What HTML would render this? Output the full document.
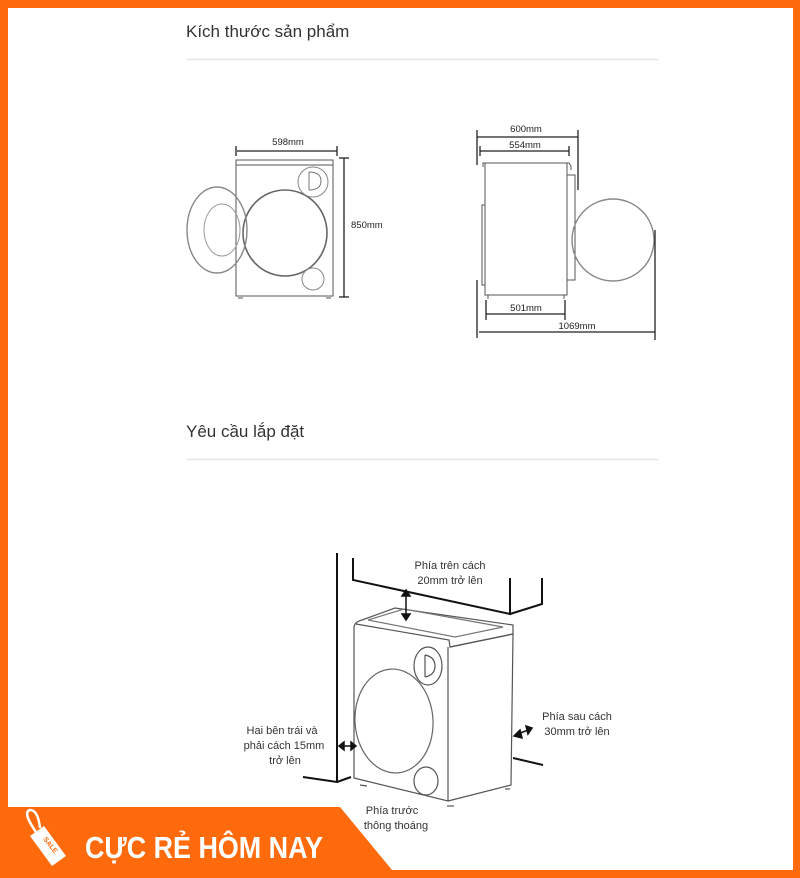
<!DOCTYPE html>
<html><head><meta charset="utf-8"><style>
html,body{margin:0;padding:0;background:#fff}
svg{display:block}
text{font-family:"Liberation Sans",sans-serif}
</style></head><body>
<svg width="800" height="878" viewBox="0 0 800 878" xmlns="http://www.w3.org/2000/svg">
<rect x="0" y="0" width="800" height="878" fill="#ff6a0c"/>
<rect x="8" y="8" width="785" height="862" fill="#fff"/>

<text x="186" y="37" font-size="17" fill="#333">Kích thước sản phẩm</text>
<line x1="187" y1="59.5" x2="658" y2="59.5" stroke="#e4e4e4" stroke-width="1.5"/>
<text x="186" y="437" font-size="17" fill="#333">Yêu cầu lắp đặt</text>
<line x1="187" y1="459.5" x2="658" y2="459.5" stroke="#e4e4e4" stroke-width="1.5"/>

<g fill="none" stroke="#555" stroke-width="1">
<rect x="236" y="160" width="97" height="136"/>
<line x1="236" y1="165" x2="333" y2="165"/>
<ellipse cx="285" cy="233" rx="42" ry="43" stroke-width="1.6" stroke="#666"/>
<ellipse cx="217" cy="230" rx="30" ry="43" stroke-width="1.4" stroke="#888"/>
<ellipse cx="222" cy="230" rx="18" ry="26" stroke="#999"/>
<circle cx="313" cy="182" r="15" stroke="#888"/>
<path d="M309 172 v18 M309 172 q12 0 12 9 q0 9 -12 9" stroke="#777"/>
<circle cx="313" cy="279" r="11" stroke="#888"/>
<line x1="238" y1="298" x2="243" y2="298"/><line x1="326" y1="298" x2="331" y2="298"/>
</g>
<g stroke="#222" stroke-width="1.3" fill="#222">
<line x1="237" y1="151" x2="337" y2="151"/>
<line x1="236" y1="146" x2="236" y2="156"/><line x1="337" y1="146" x2="337" y2="156"/>
<line x1="344" y1="158" x2="344" y2="297"/>
<line x1="339" y1="158" x2="349" y2="158"/><line x1="339" y1="297" x2="349" y2="297"/>
</g>
<text x="288" y="145" font-size="9.5" text-anchor="middle" fill="#222">598mm</text>
<text x="351" y="228" font-size="9.5" fill="#222">850mm</text>

<g fill="none" stroke="#555" stroke-width="1">
<rect x="485" y="163" width="82" height="132"/>
<path d="M483 167 v-4 h86 l2 3 v4"/>
<path d="M485 205 h-3 v80 h3"/>
<path d="M567 175 h8 v105 h-8"/>
<circle cx="613" cy="240" r="41" stroke="#888" stroke-width="1.4"/>
<line x1="488" y1="295" x2="488" y2="299"/><line x1="564" y1="295" x2="564" y2="299"/>
</g>
<g stroke="#222" stroke-width="1.3">
<line x1="477" y1="130" x2="477" y2="165"/><line x1="578" y1="130" x2="578" y2="190"/>
<line x1="477" y1="137" x2="578" y2="137"/>
<line x1="480" y1="151" x2="569" y2="151"/><line x1="569" y1="146" x2="569" y2="156"/><line x1="480" y1="146" x2="480" y2="156"/>
<line x1="486" y1="314" x2="565" y2="314"/><line x1="486" y1="300" x2="486" y2="320"/><line x1="565" y1="300" x2="565" y2="320"/>
<line x1="477" y1="280" x2="477" y2="338"/><line x1="655" y1="230" x2="655" y2="340"/>
<line x1="479" y1="332" x2="655" y2="332"/>
</g>
<text x="526" y="132" font-size="9.5" text-anchor="middle" fill="#222">600mm</text>
<text x="525" y="148" font-size="9.5" text-anchor="middle" fill="#222">554mm</text>
<text x="526" y="311" font-size="9.5" text-anchor="middle" fill="#222">501mm</text>
<text x="577" y="329" font-size="9.5" text-anchor="middle" fill="#222">1069mm</text>

<g fill="none" stroke="#111" stroke-width="2">
<path d="M337 553 V782 L303 777 M337 782 L351 777"/>
<path d="M353 558 V580 L510 614 V578 M510 614 L542 604 V578"/>
<path d="M513 758 L543 765"/>
</g>
<g fill="none" stroke="#555" stroke-width="1.2">
<path d="M354 628 Q354 622 362 620 L395 608 L513 625 L513 634 L450 647 L449 640 L356 624"/>
<path d="M368 620 L404 609 L503 627 L455 637 Z" stroke="#777"/>
<path d="M354 628 V778 L448 801 V647"/>
<path d="M450 647 L513 634 L511 785 L448 801"/>
<ellipse cx="394" cy="721" rx="39" ry="52" transform="rotate(-4 394 721)" stroke="#666"/>
<ellipse cx="428" cy="666" rx="14" ry="19"/>
<path d="M425 655 v22 M425 655 q10 2 10 11 q0 9 -10 11"/>
<ellipse cx="426" cy="781" rx="12" ry="14"/>
<line x1="360" y1="785" x2="367" y2="786"/><line x1="447" y1="806" x2="454" y2="806"/><line x1="505" y1="789" x2="510" y2="789"/>
</g>
<g stroke="#111" stroke-width="1.5" fill="#111">
<line x1="406" y1="595" x2="406" y2="615"/>
<path d="M402 596 L406 590 L410 596 Z M402 614 L406 620 L410 614 Z"/>
<line x1="343" y1="746" x2="352" y2="746"/>
<path d="M344 742 L339 746 L344 750 Z M351 742 L356 746 L351 750 Z"/>
<line x1="518" y1="734" x2="528" y2="730"/>
<path d="M520 730 L514 736 L522 738 Z M526 726 L532 728 L528 734 Z"/>
</g>
<g font-size="11" fill="#333">
<text x="450" y="569" text-anchor="middle">Phía trên cách</text>
<text x="450" y="584" text-anchor="middle">20mm trở lên</text>
<text x="282" y="734" text-anchor="middle">Hai bên trái và</text>
<text x="284" y="749" text-anchor="middle">phải cách 15mm</text>
<text x="285" y="764" text-anchor="middle">trở lên</text>
<text x="577" y="720" text-anchor="middle">Phía sau cách</text>
<text x="577" y="735" text-anchor="middle">30mm trở lên</text>
<text x="392" y="814" text-anchor="middle">Phía trước</text>
<text x="396" y="829" text-anchor="middle">thông thoáng</text>
</g>

<polygon points="8,807 340,807 392,870 8,870" fill="#ff6a0c"/>
<g fill="#fff">
<path d="M30 836 L44 826 L66 856 L52 866 Z"/>
<path d="M36 832 Q22 812 30 810 Q38 810 40 828" fill="none" stroke="#fff" stroke-width="2.5"/>
</g>
<text x="41" y="847" font-size="7" font-weight="bold" fill="#ff6a0c" transform="rotate(52 50 845)">SALE</text>
<text x="85" y="858" font-size="31" font-weight="bold" fill="#fff" textLength="238" lengthAdjust="spacingAndGlyphs">CỰC RẺ HÔM NAY</text>
</svg>
</body></html>
